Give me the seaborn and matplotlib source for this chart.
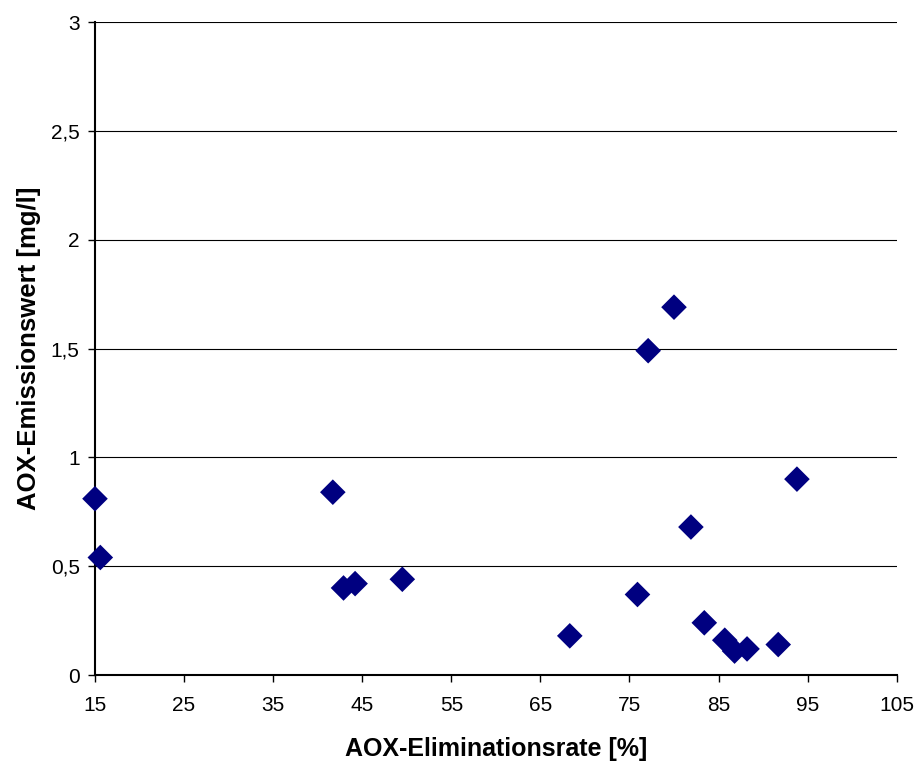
import numpy as np
import pandas as pd
import matplotlib
matplotlib.use("Agg")
import matplotlib.pyplot as plt
import seaborn as sns

# values
elimination_rate = [15.0, 15.6, 41.7, 42.9, 44.2, 49.5, 68.3, 75.9, 77.1, 80.0,
                    81.9, 83.4, 85.7, 86.8, 88.2, 91.7, 93.8]
emission_value = [0.81, 0.54, 0.84, 0.40, 0.42, 0.44, 0.18, 0.37, 1.49, 1.69,
                  0.68, 0.24, 0.16, 0.11, 0.12, 0.14, 0.90]

x_ticks = [15, 25, 35, 45, 55, 65, 75, 85, 95, 105]
y_ticks = [0, 0.5, 1, 1.5, 2, 2.5, 3]
y_tick_labels = ["0", "0,5", "1", "1,5", "2", "2,5", "3"]

df = pd.DataFrame({"rate": elimination_rate, "emission": emission_value})

sns.set_style("white")
plt.rcParams["font.family"] = ["Liberation Sans", "DejaVu Sans"]

fig = plt.figure(figsize=(9.15, 7.65), dpi=100)
ax = fig.add_axes([0.1038, 0.1176, 0.8762, 0.8536])

# horizontal grid lines like the spreadsheet original
for yv in y_ticks[1:]:
    ax.axhline(yv, color="black", linewidth=0.8, zorder=0)

sns.scatterplot(data=df, x="rate", y="emission", marker="D", s=170,
                color="#000080", edgecolor="none", linewidth=0, ax=ax,
                clip_on=False, zorder=3)

ax.set_xlim(15, 105)
ax.set_ylim(0, 3)
ax.set_xticks(x_ticks)
ax.set_yticks(y_ticks)
ax.set_yticklabels(y_tick_labels)

for side in ["top", "right"]:
    ax.spines[side].set_visible(False)
for side in ["left", "bottom"]:
    ax.spines[side].set_color("black")
    ax.spines[side].set_linewidth(1.5)

ax.tick_params(axis="both", direction="out", length=5, width=1,
               color="black", labelsize=15, labelcolor="black",
               bottom=True, left=True)
ax.tick_params(axis="x", pad=10)
ax.tick_params(axis="y", pad=6)

ax.set_xlabel("AOX-Eliminationsrate [%]", fontsize=18, fontweight="bold",
              labelpad=16, color="black")
ax.set_ylabel("AOX-Emissionswert [mg/l]", fontsize=18.5, fontweight="bold",
              labelpad=7, color="black")

fig.savefig("out.png", dpi=100)
